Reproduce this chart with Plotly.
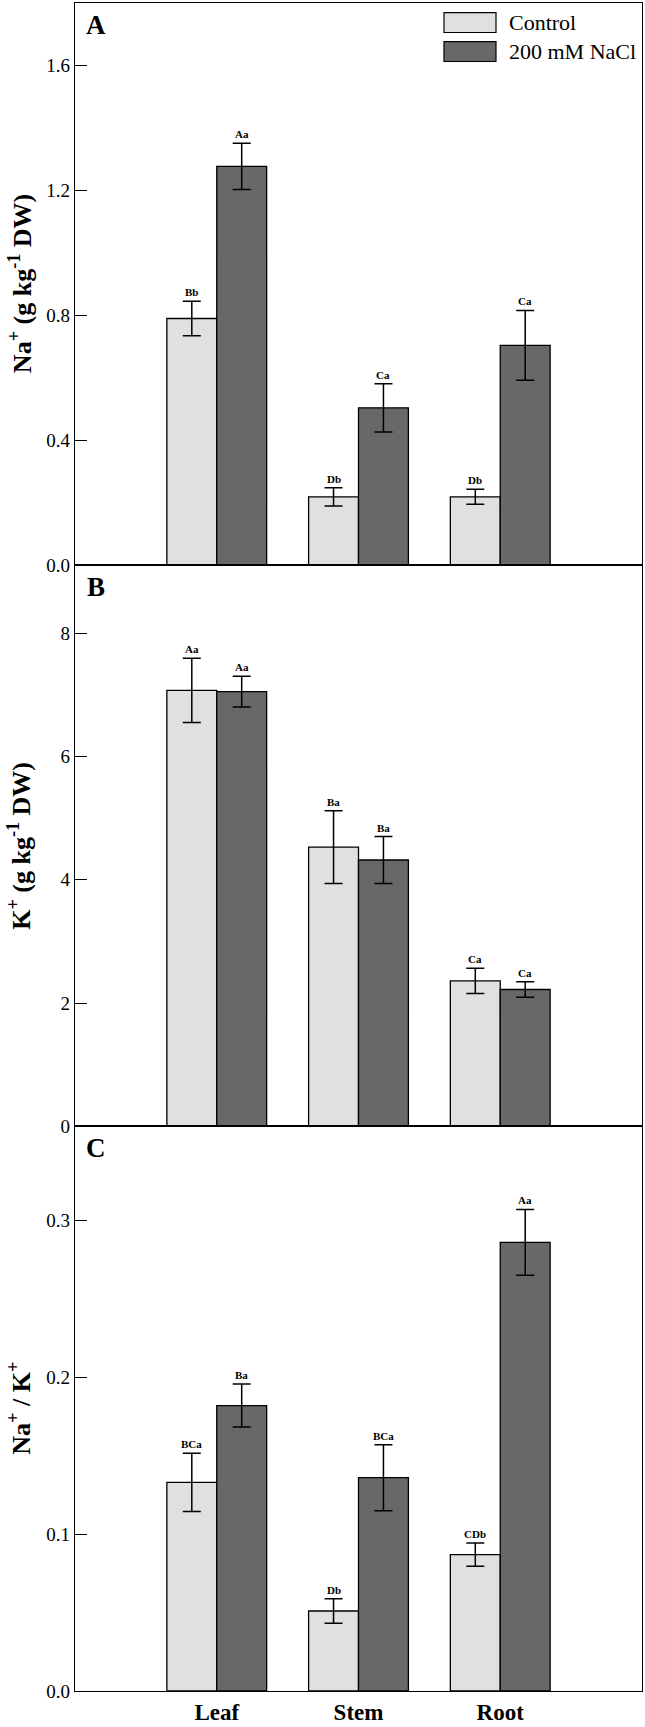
import plotly.graph_objects as go

# ---------------- data ----------------
categories = ["Leaf", "Stem", "Root"]
series_names = ["Control", "200 mM NaCl"]

na_control = [0.79, 0.219, 0.219]
na_control_err = [0.055, 0.029, 0.024]
na_nacl = [1.277, 0.504, 0.704]
na_nacl_err = [0.074, 0.077, 0.112]
na_letters_control = ["Bb", "Db", "Db"]
na_letters_nacl = ["Aa", "Ca", "Ca"]

k_control = [7.07, 4.53, 2.36]
k_control_err = [0.52, 0.59, 0.205]
k_nacl = [7.05, 4.32, 2.22]
k_nacl_err = [0.25, 0.38, 0.125]
k_letters_control = ["Aa", "Ba", "Ca"]
k_letters_nacl = ["Aa", "Ba", "Ca"]

ratio_control = [0.133, 0.051, 0.087]
ratio_control_err = [0.0186, 0.0078, 0.0074]
ratio_nacl = [0.182, 0.136, 0.286]
ratio_nacl_err = [0.0137, 0.021, 0.021]
ratio_letters_control = ["BCa", "Db", "CDb"]
ratio_letters_nacl = ["Ba", "BCa", "Aa"]

panel_labels = ["A", "B", "C"]
y_titles = ["Na<sup>+</sup> (g kg<sup>-1</sup> DW)",
            "K<sup>+</sup> (g kg<sup>-1</sup> DW)",
            "Na<sup>+</sup> / K<sup>+</sup>"]
y_ranges = [[0, 1.8], [0, 9.1], [0, 0.36]]
y_ticks = [[0, 0.4, 0.8, 1.2, 1.6], [0, 2, 4, 6, 8], [0, 0.1, 0.2, 0.3]]
y_formats = [".1f", "d", ".1f"]

# ---------------- style ----------------
FONT = "Liberation Serif, Times New Roman, serif"
C_CTRL = "#e0e0e0"
C_NACL = "#686868"
BARGAP = 0.296
W, H = 645, 1727
ML, MR, MT, MB = 75, 3, 2, 25
plot_w = W - ML - MR
plot_h = H - MT - MB
bar_off = (1 - BARGAP) / 4.0

panels = [
    (na_control, na_control_err, na_nacl, na_nacl_err, na_letters_control, na_letters_nacl),
    (k_control, k_control_err, k_nacl, k_nacl_err, k_letters_control, k_letters_nacl),
    (ratio_control, ratio_control_err, ratio_nacl, ratio_nacl_err, ratio_letters_control, ratio_letters_nacl),
]

domains = [[0.6669, 1.0], [0.3345, 0.6669], [0.0, 0.3345]]
xpos = list(range(len(categories)))

fig = go.Figure()
annotations = []
layout_axes = {}

for p, (c, ce, n, ne, lc, ln) in enumerate(panels):
    sfx = "" if p == 0 else str(p + 1)
    xa, ya = "x" + sfx, "y" + sfx
    for vals, errs, color, name in [(c, ce, C_CTRL, series_names[0]), (n, ne, C_NACL, series_names[1])]:
        fig.add_trace(go.Bar(
            x=xpos, y=vals, name=name, xaxis=xa, yaxis=ya,
            marker=dict(color=color, line=dict(color="black", width=1.3)),
            error_y=dict(type="data", array=errs, visible=True, color="black",
                         thickness=1.5, width=9),
            showlegend=False,
        ))
    for i in xpos:
        for vals, errs, letters, off in [(c, ce, lc, -bar_off), (n, ne, ln, bar_off)]:
            annotations.append(dict(
                x=i + off, y=vals[i] + errs[i], xref=xa, yref=ya,
                text="<b>%s</b>" % letters[i], showarrow=False,
                yanchor="bottom", yshift=1,
                font=dict(family=FONT, size=11, color="black")))
    bottom = (p == 2)
    layout_axes["xaxis" + sfx] = dict(
        domain=[0, 1], anchor=ya, range=[-1, 3],
        tickvals=xpos if bottom else [],
        ticktext=["<b>%s</b>" % t for t in categories] if bottom else [],
        showticklabels=bottom, ticks="", ticklen=0, showgrid=False, zeroline=False,
        showline=True, mirror=True, linecolor="black", linewidth=1.2,
        tickfont=dict(family=FONT, size=23, color="black"),
    )
    layout_axes["yaxis" + sfx] = dict(
        domain=domains[p], anchor=xa, range=y_ranges[p],
        tickvals=y_ticks[p], tickformat=y_formats[p],
        ticks="inside", ticklen=12, tickwidth=1.2, tickcolor="black",
        showgrid=False, zeroline=False,
        showline=True, mirror=True, linecolor="black", linewidth=1.2,
        tickfont=dict(family=FONT, size=19, color="black"),
    )
    # panel letter
    top_px = MT + (1 - domains[p][1]) * plot_h
    annotations.append(dict(
        x=(96 - ML) / plot_w, y=1 - (top_px + 22 - MT) / plot_h,
        xref="paper", yref="paper", text="<b>%s</b>" % panel_labels[p],
        showarrow=False, xanchor="center", yanchor="middle",
        font=dict(family=FONT, size=27, color="black")))
    # y title
    annotations.append(dict(
        x=(20 - ML) / plot_w, y=(domains[p][0] + domains[p][1]) / 2,
        xref="paper", yref="paper", text="<b>%s</b>" % y_titles[p],
        textangle=-90, showarrow=False, xanchor="center", yanchor="middle",
        font=dict(family=FONT, size=26, color="black")))

# legend (drawn in panel A)
shapes = []
for k, (name, color) in enumerate(zip(series_names, [C_CTRL, C_NACL])):
    y0_px, y1_px = 11.7 + k * 29.2, 31.7 + k * 29.2
    shapes.append(dict(type="rect", xref="paper", yref="paper",
                       x0=(444 - ML) / plot_w, x1=(496 - ML) / plot_w,
                       y0=1 - (y1_px - MT) / plot_h, y1=1 - (y0_px - MT) / plot_h,
                       fillcolor=color, line=dict(color="black", width=1.2)))
    annotations.append(dict(
        x=(507 - ML) / plot_w, y=1 - ((y0_px + y1_px) / 2 - MT) / plot_h,
        xref="paper", yref="paper", text=name, showarrow=False,
        xanchor="left", yanchor="middle",
        font=dict(family=FONT, size=22, color="black")))

fig.update_layout(
    width=W, height=H,
    margin=dict(l=ML, r=MR, t=MT, b=MB),
    paper_bgcolor="white", plot_bgcolor="white",
    barmode="group", bargap=BARGAP, bargroupgap=0,
    annotations=annotations, shapes=shapes,
    font=dict(family=FONT, color="black"),
    **layout_axes,
)

fig.write_html("out.html",
               config={"displayModeBar": False},
               post_script="document.body.style.margin='0';document.body.style.padding='0';")
